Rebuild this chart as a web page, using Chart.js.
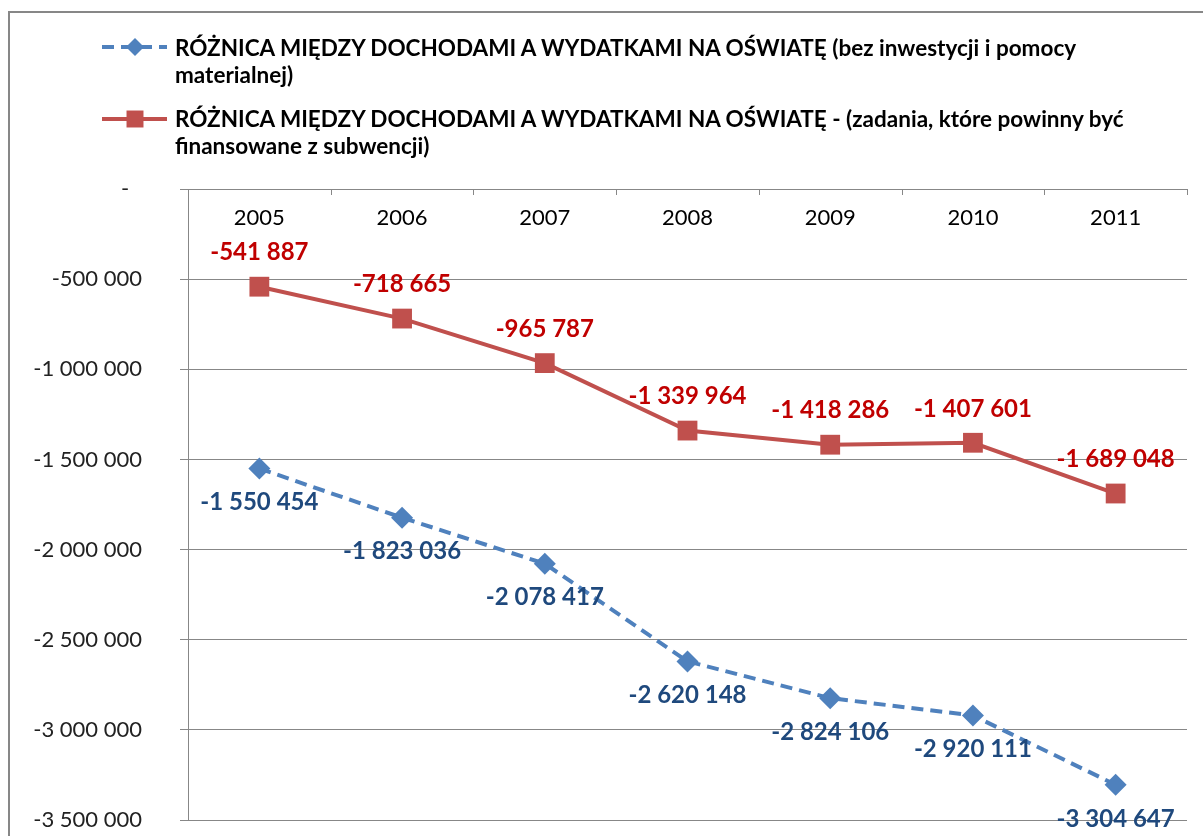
<!DOCTYPE html>
<html>
<head>
<meta charset="utf-8">
<script src="https://cdn.jsdelivr.net/npm/chart.js@4.4.1/dist/chart.umd.min.js"></script>
<style>
  body { margin: 0; background: #fff; overflow: hidden; }
  #wrap { position: relative; width: 1203px; height: 836px; }
  #frame { position: absolute; left: 8px; top: 11px; width: 1300px; height: 900px; border: 2px solid #878787; box-sizing: border-box; }
  #box { position: absolute; left: 0; top: 0; width: 1203px; height: 836px; }
  #legend { position: absolute; left: 175px; top: 0; font-family: Lato, sans-serif; font-weight: bold; font-size: 22.5px; color: #000; }
  .item { position: absolute; left: 0; white-space: nowrap; line-height: 27px; }
</style>
</head>
<body>
<div id="wrap">
  <div id="frame"></div>
  <div id="box"><canvas id="chart"></canvas></div>
  <div id="legend"></div>
</div>
<script>
const years = ['2005', '2006', '2007', '2008', '2009', '2010', '2011'];

// bez inwestycji i pomocy materialnej
const diffNoInvest = [-1550454, -1823036, -2078417, -2620148, -2824106, -2920111, -3304647];
// zadania finansowane z subwencji
const diffSubsidy = [-541887, -718665, -965787, -1339964, -1418286, -1407601, -1689048];

const legendLines = [
    ['RÓŻNICA MIĘDZY DOCHODAMI A WYDATKAMI NA OŚWIATĘ (bez inwestycji i pomocy', 'materialnej)'],
    ['RÓŻNICA MIĘDZY DOCHODAMI A WYDATKAMI NA OŚWIATĘ - (zadania, które powinny być', 'finansowane z subwencji)']
];

const yMin = -3500000;
const yMax = 0;
const yStep = 500000;

function fmt(v) {
    const s = Math.abs(v).toString().replace(/\B(?=(\d{3})+(?!\d))/g, ' ');
    return (v < 0 ? '-' : '') + s;
}

const gridColor = '#878787';

// year labels under the top axis + small tick marks between categories
const topAxisPlugin = {
    id: 'topAxis',
    afterDraw(chart) {
        const ctx = chart.ctx;
        const x = chart.scales.x;
        const top = chart.chartArea.top;
        ctx.save();
        ctx.strokeStyle = gridColor;
        ctx.lineWidth = 1;
        for (let i = 0; i <= years.length; i++) {
            const px = Math.round(x.getPixelForValue(i - 0.5)) + 0.5;
            ctx.beginPath();
            ctx.moveTo(px, top);
            ctx.lineTo(px, top + 6);
            ctx.stroke();
        }
        ctx.fillStyle = '#000';
        ctx.font = '22px Lato';
        ctx.textAlign = 'center';
        ctx.textBaseline = 'middle';
        years.forEach((y, i) => {
            ctx.fillText(y, x.getPixelForValue(i), top + 29);
        });
        ctx.restore();
    }
};

// value labels next to each point
const valueLabelPlugin = {
    id: 'valueLabels',
    afterDatasetsDraw(chart) {
        const ctx = chart.ctx;
        ctx.save();
        ctx.font = 'bold 24px Lato';
        ctx.textAlign = 'center';
        ctx.textBaseline = 'middle';
        chart.data.datasets.forEach((ds, di) => {
            const meta = chart.getDatasetMeta(di);
            ctx.fillStyle = ds.labelColor;
            meta.data.forEach((pt, i) => {
                ctx.fillText(fmt(ds.data[i]), pt.x, pt.y + ds.labelOffset);
            });
        });
        ctx.restore();
    }
};

// legend symbols (text is html)
const legendSymbolPlugin = {
    id: 'legendSymbols',
    afterDraw(chart) {
        const ctx = chart.ctx;
        const rows = [47, 119];
        chart.data.datasets.forEach((ds, di) => {
            const y = rows[di];
            ctx.save();
            ctx.strokeStyle = ds.borderColor;
            ctx.lineWidth = 4;
            ctx.setLineDash(ds.borderDash || []);
            ctx.beginPath();
            ctx.moveTo(102, y);
            ctx.lineTo(167, y);
            ctx.stroke();
            ctx.setLineDash([]);
            ctx.fillStyle = ds.pointBackgroundColor;
            Chart.helpers.drawPoint(ctx, {
                pointStyle: ds.pointStyle,
                radius: di === 0 ? 9 : 12,
                rotation: 0,
                borderWidth: 0
            }, 135, y);
            ctx.restore();
        });
    }
};

const ctx = document.getElementById('chart').getContext('2d');
const chart = new Chart(ctx, {
    type: 'line',
    data: {
        labels: years,
        datasets: [{
            label: legendLines[0].join(' '),
            data: diffNoInvest,
            borderColor: '#4F81BD',
            backgroundColor: '#4F81BD',
            pointBackgroundColor: '#4F81BD',
            pointBorderWidth: 0,
            borderWidth: 4,
            borderDash: [12, 7],
            pointStyle: 'rectRot',
            pointRadius: 11,
            tension: 0,
            labelColor: '#1F497D',
            labelOffset: 34
        }, {
            label: legendLines[1].join(' '),
            data: diffSubsidy,
            borderColor: '#C0504D',
            backgroundColor: '#C0504D',
            pointBackgroundColor: '#C0504D',
            pointBorderWidth: 0,
            borderWidth: 4,
            pointStyle: 'rect',
            pointRadius: 14,
            tension: 0,
            labelColor: '#C00000',
            labelOffset: -34
        }]
    },
    options: {
        responsive: true,
        maintainAspectRatio: false,
        animation: false,
        layout: { padding: { left: 8, right: 16, top: 189, bottom: 16 } },
        plugins: {
            legend: { display: false },
            tooltip: { enabled: false }
        },
        scales: {
            x: {
                position: 'top',
                offset: true,
                grid: { display: false, drawTicks: false },
                border: { display: true, color: gridColor, width: 1 },
                ticks: { display: false },
                afterFit(scale) { scale.height = 0; }
            },
            y: {
                min: yMin,
                max: yMax,
                grid: { color: gridColor, lineWidth: 1, tickLength: 8, drawTicks: true },
                border: { display: true, color: gridColor, width: 1 },
                ticks: {
                    stepSize: yStep,
                    padding: 38,
                    color: '#222',
                    font: { family: 'Lato', size: 22 },
                    callback: v => v === 0 ? '-\u2007' : fmt(v)
                },
                afterFit(scale) {
                    scale.width = 180;
                    scale.paddingTop = 0;
                    scale.paddingBottom = 0;
                }
            }
        }
    },
    plugins: [topAxisPlugin, valueLabelPlugin, legendSymbolPlugin]
});

// html legend text
const legendEl = document.getElementById('legend');
const tops = [34, 105];
legendLines.forEach((lines, i) => {
    const d = document.createElement('div');
    d.className = 'item';
    d.style.top = tops[i] + 'px';
    d.innerHTML = lines.join('<br>');
    legendEl.appendChild(d);
});
</script>
</body>
</html>
